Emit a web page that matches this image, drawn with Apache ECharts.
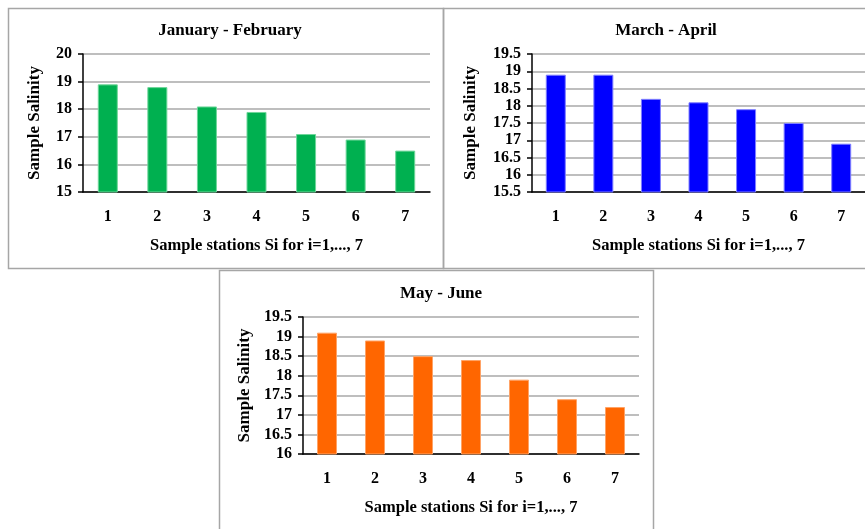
<!DOCTYPE html>
<html>
<head>
<meta charset="utf-8">
<script src="https://cdn.jsdelivr.net/npm/echarts@6/dist/echarts.min.js"></script>
<style>
html,body{margin:0;padding:0;background:#fff;}
#c{width:865px;height:529px;}
</style>
</head>
<body>
<div id="c"></div>
<script>
const stations = ['1','2','3','4','5','6','7'];
const janFeb = [18.9, 18.8, 18.1, 17.9, 17.1, 16.9, 16.5];
const marApr = [18.9, 18.9, 18.2, 18.1, 17.9, 17.5, 16.9];
const mayJun = [19.1, 18.9, 18.5, 18.4, 17.9, 17.4, 17.2];
const titles = ['January - February', 'March - April', 'May - June'];
const xTitle = 'Sample stations Si for i=1,..., 7';
const yTitle = 'Sample Salinity';

const FONT = '"Liberation Serif", "Times New Roman", serif';
const chart = echarts.init(document.getElementById('c'));

const grids = [
  {left: 83, top: 54, width: 347, height: 138},
  {left: 532, top: 54, width: 334, height: 138},
  {left: 303, top: 317, width: 336, height: 137}
];
const yRanges = [
  {min: 15, max: 20, interval: 1},
  {min: 15.5, max: 19.5, interval: 0.5},
  {min: 16, max: 19.5, interval: 0.5}
];
const yNameGaps = [40, 53, 50];
const colors = ['#00B050', '#0000FF', '#FF6600'];
const borders = ['#6fd69a', '#7f7fff', '#ffa366'];
const datasets = [janFeb, marApr, mayJun];
const titlePos = [{x: 225, y: 17}, {x: 661, y: 17}, {x: 436, y: 280}];

const txt = {fontFamily: FONT, fontWeight: 'bold', color: '#000'};

const option = {
  animation: false,
  backgroundColor: '#fff',
  graphic: [
    {type: 'rect', shape: {x: 8.5, y: 8.5, width: 435, height: 260}, style: {fill: 'none', stroke: '#a6a6a6', lineWidth: 1.5}, z: -1},
    {type: 'rect', shape: {x: 443.5, y: 8.5, width: 430, height: 260}, style: {fill: 'none', stroke: '#a6a6a6', lineWidth: 1.5}, z: -1},
    {type: 'rect', shape: {x: 219.5, y: 270.5, width: 434, height: 270}, style: {fill: 'none', stroke: '#a6a6a6', lineWidth: 1.5}, z: -1}
  ],
  title: titles.map((t, i) => ({
    text: t,
    left: titlePos[i].x,
    top: titlePos[i].y,
    textAlign: 'center',
    textStyle: Object.assign({}, txt, {fontSize: 17})
  })),
  grid: grids,
  xAxis: grids.map((g, i) => ({
    type: 'category',
    gridIndex: i,
    data: stations,
    axisLine: {lineStyle: {color: '#000', width: 1.5}},
    axisTick: {show: false},
    axisLabel: Object.assign({}, txt, {fontSize: 16, margin: 17}),
    name: xTitle,
    nameLocation: 'middle',
    nameGap: 45,
    nameTextStyle: Object.assign({}, txt, {fontSize: 16.5})
  })),
  yAxis: grids.map((g, i) => ({
    type: 'value',
    gridIndex: i,
    min: yRanges[i].min,
    max: yRanges[i].max,
    interval: yRanges[i].interval,
    axisLine: {show: true, lineStyle: {color: '#000', width: 1.5}},
    axisTick: {show: true, length: 5, lineStyle: {color: '#000', width: 1.5}},
    splitLine: {lineStyle: {color: '#a8a8a8', width: 1.5}},
    axisLabel: Object.assign({}, txt, {fontSize: 16, margin: 11}),
    name: yTitle,
    nameLocation: 'middle',
    nameRotate: 90,
    nameGap: yNameGaps[i],
    nameTextStyle: Object.assign({}, txt, {fontSize: 17})
  })),
  series: datasets.map((d, i) => ({
    type: 'bar',
    xAxisIndex: i,
    yAxisIndex: i,
    data: d,
    barWidth: 20,
    itemStyle: {color: colors[i], borderColor: borders[i], borderWidth: 1}
  }))
};
chart.setOption(option);
</script>
</body>
</html>
